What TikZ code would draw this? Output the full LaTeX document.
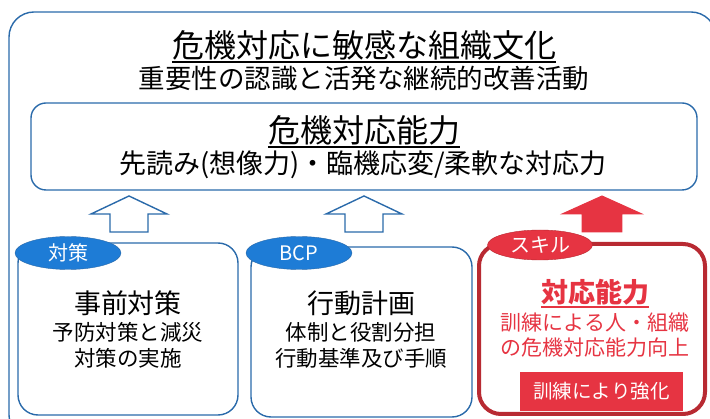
\documentclass[tikz,border=0pt]{standalone}
\usepackage{fontspec}
\setmainfont{Noto Sans CJK JP}
\usetikzlibrary{shapes.geometric}
\definecolor{riskblue}{RGB}{42,106,170}
\definecolor{tagblue}{RGB}{30,124,214}
\definecolor{skillred}{RGB}{230,52,66}
\definecolor{darkred}{RGB}{184,42,50}

\tikzset{
  uparrow/.pic={\path[pic actions] (0,0) -- (38,18) -- (19,18) -- (19,36) -- (-19,36) -- (-19,18) -- (-38,18) -- cycle;}
}

\begin{document}
\begin{tikzpicture}[x=1pt,y=-1pt,
  panel/.style={draw=riskblue,line width=1.4pt,rounded corners=20pt,inner sep=0pt},
  tag/.style={ellipse,draw=riskblue,fill=tagblue,text=white,inner sep=0pt,minimum width=106pt,minimum height=33pt,font=\fontsize{20}{20}\selectfont},
  big/.style={inner sep=0pt,font=\fontsize{32}{32}\selectfont},
  sub/.style={inner sep=0pt,font=\fontsize{26.5}{26.5}\selectfont},
  head/.style={inner sep=0pt,font=\fontsize{27}{27}\selectfont},
  body/.style={inner sep=0pt,align=center,font=\fontsize{21.5}{26}\selectfont}]
  \useasboundingbox (0,0) rectangle (710,419);

  % frames
  \node[panel,rounded corners=25pt,minimum width=707pt,minimum height=428pt] (culture) at (362.5,226) {};
  \node[panel,rounded corners=15pt,minimum width=666pt,minimum height=87pt] (ability) at (364,146.5) {};
  \node[panel,minimum width=220pt,minimum height=172pt] (measure) at (128,329) {};
  \node[panel,minimum width=221pt,minimum height=170pt] (plan) at (361.5,332) {};
  \node[panel,draw=darkred,line width=4pt,rounded corners=22pt,minimum width=226pt,minimum height=170pt] (skill) at (592,329) {};

  % tags
  \node[tag] (measuretag) at (68,253) {対策};
  \node[tag] (plantag) at (299,253) {BCP};
  \node[tag,draw=darkred,fill=skillred,minimum width=105pt,minimum height=30pt] (skilltag) at (540,245) {スキル};

  % arrows
  \pic[draw=riskblue,fill=white,line width=1.4pt] at (129,196) {uparrow};
  \pic[draw=riskblue,fill=white,line width=1.4pt] at (364,196) {uparrow};
  \pic[draw=skillred,fill=skillred,line width=1pt,xscale=1.05] at (602,196) {uparrow};

  % culture
  \node[big] (culturetitle) at (364,45) {危機対応に敏感な組織文化};
  \draw[line width=1.6pt] ([yshift=-2pt]culturetitle.south west) -- ([yshift=-2pt]culturetitle.south east);
  \node[sub] (culturesub) at (364,78) {重要性の認識と活発な継続的改善活動};

  % ability
  \node[big] (abilitytitle) at (364,130) {危機対応能力};
  \draw[line width=1.6pt] ([yshift=-2pt]abilitytitle.south west) -- ([yshift=-2pt]abilitytitle.south east);
  \node[sub,font=\fontsize{27}{27}\selectfont] (abilitysub) at (363,165) {先読み(想像力)・臨機応変/柔軟な対応力};

  % measures and plan
  \node[head] (measurehead) at (128,303) {事前対策};
  \node[body] (measurebody) at (128,345) {予防対策と減災\\対策の実施};
  \node[head] (planhead) at (361,303) {行動計画};
  \node[body] (planbody) at (361,345) {体制と役割分担\\行動基準及び手順};

  % skill
  \node[head,text=skillred,font=\fontsize{27}{27}\selectfont\bfseries] (skillhead) at (595,292) {対応能力};
  \draw[skillred,line width=1.6pt] ([yshift=-2pt]skillhead.south west) -- ([yshift=-2pt]skillhead.south east);
  \node[body,text=skillred,font=\fontsize{21}{25.5}\selectfont] (skillbody) at (595,335) {訓練による人・組織\\の危機対応能力向上};
  \node[fill=skillred,text=white,inner sep=0pt,minimum width=163pt,minimum height=39pt,font=\fontsize{19.5}{19.5}\selectfont] (train) at (601.5,391.5) {訓練により強化};
\end{tikzpicture}
\end{document}
